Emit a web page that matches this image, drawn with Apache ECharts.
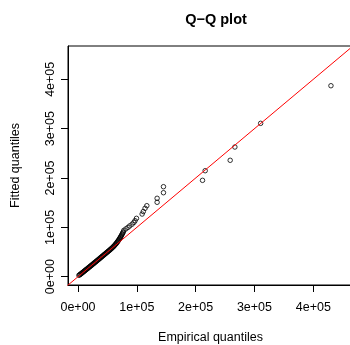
<!DOCTYPE html>
<html>
<head>
<meta charset="utf-8">
<script src="https://cdn.jsdelivr.net/npm/echarts@6/dist/echarts.min.js"></script>
<style>
  html, body { margin: 0; padding: 0; background: #fff; }
  #chart { width: 350px; height: 345px; }
</style>
</head>
<body>
<div id="chart"></div>
<script>
// empirical vs fitted quantiles, in thousands
const empirical = [
  1.5, 2.8, 3.9, 5.1, 6.0, 7.2, 8.1, 9.3, 10.4, 11.2, 12.5, 13.6, 14.4, 15.7, 16.8, 17.6,
  18.9, 20.1, 21.0, 22.3, 23.4, 24.2, 25.6, 26.7, 27.5, 28.8, 29.9, 31.0, 32.2, 33.1, 34.5,
  35.6, 36.4, 37.8, 38.9, 40.1, 41.0, 42.4, 43.5, 44.6, 45.5, 46.9, 48.0, 49.2, 50.3, 51.4,
  52.6, 53.7, 54.8, 55.9, 57.1, 58.2, 59.4, 60.5, 61.6, 62.5, 63.6, 64.6, 65.5, 66.4, 67.3,
  68.2, 69.1, 70.0, 70.9, 71.8, 72.6, 73.5, 74.4, 75.3, 76.2, 77.0, 78.0, 81.5, 85.0, 88.0,
  92.0, 95.0, 97.0, 99.4, 109.0, 111.0, 114.0, 117.0, 134.5, 134.5, 145.3, 145.3, 211.7,
  216.2, 258.7, 266.7, 310.5, 430.0
];
const fitted = [
  2.8, 3.9, 4.8, 5.9, 6.9, 7.9, 8.8, 10.0, 11.0, 11.9, 13.1, 14.1, 14.9, 16.2, 17.2, 18.0,
  19.3, 20.4, 21.3, 22.6, 23.6, 24.4, 25.8, 26.9, 27.7, 29.0, 30.0, 31.1, 32.3, 33.2, 34.6,
  35.7, 36.5, 37.9, 39.0, 40.2, 41.1, 42.5, 43.6, 44.7, 45.6, 47.0, 48.1, 49.3, 50.4, 51.5,
  52.7, 53.8, 55.0, 56.1, 57.4, 58.6, 60.0, 61.3, 62.7, 63.9, 65.4, 66.8, 68.2, 69.6, 71.1,
  72.6, 74.1, 75.8, 77.5, 79.3, 81.0, 82.8, 84.8, 86.8, 88.9, 90.8, 94.0, 97.0, 100.0, 103.0,
  106.5, 110.0, 113.5, 118.3, 127.0, 132.0, 138.6, 143.9, 150.8, 158.9, 170.2, 182.4, 195.3,
  214.8, 235.9, 262.8, 310.8, 387.0
];
const tickValues = [0, 100000, 200000, 300000, 400000];
const tickLabels = ['0e+00', '1e+05', '2e+05', '3e+05', '4e+05'];
const refLine = [-50000, 600000];

const points = empirical.map((e, i) => [e * 1000, fitted[i] * 1000]);
const font = "'Liberation Sans', Arial, sans-serif";

function fmt(v) {
  const i = tickValues.indexOf(v);
  return i >= 0 ? tickLabels[i] : '';
}

const chart = echarts.init(document.getElementById('chart'), null, { renderer: 'canvas' });

chart.setOption({
  animation: false,
  backgroundColor: '#fff',
  title: {
    text: 'Q\u2212Q plot',
    left: 211,
    top: 7,
    textAlign: 'center',
    textStyle: { fontFamily: font, fontSize: 14.5, fontWeight: 'bold', color: '#000' }
  },
  grid: {
    left: 68, top: 46, right: -3, bottom: 60,
    containLabel: false,
    outerBoundsMode: 'none',
    show: true,
    borderColor: '#000',
    borderWidth: 1
  },
  xAxis: {
    type: 'value',
    min: -17000,
    max: 467500,
    name: 'Empirical quantiles',
    nameLocation: 'middle',
    nameGap: 46,
    nameTextStyle: { fontFamily: font, fontSize: 12.5, color: '#000' },
    splitLine: { show: false },
    axisLine: { show: true, onZero: false, lineStyle: { color: '#000', width: 1 } },
    axisTick: { show: true, length: 7, customValues: tickValues, lineStyle: { color: '#000' } },
    axisLabel: {
      customValues: tickValues, formatter: fmt, margin: 16,
      fontFamily: font, fontSize: 12.5, color: '#000'
    }
  },
  yAxis: {
    type: 'value',
    min: -16800,
    max: 467500,
    name: 'Fitted quantiles',
    nameLocation: 'middle',
    nameGap: 46,
    nameTextStyle: { fontFamily: font, fontSize: 12.5, color: '#000' },
    splitLine: { show: false },
    axisLine: { show: true, onZero: false, lineStyle: { color: '#000', width: 1 } },
    axisTick: { show: true, length: 7, customValues: tickValues, lineStyle: { color: '#000' } },
    axisLabel: {
      customValues: tickValues, formatter: fmt, margin: 11, rotate: 90,
      fontFamily: font, fontSize: 12.5, color: '#000'
    }
  },
  series: [
    {
      type: 'scatter',
      data: points,
      symbol: 'circle',
      symbolSize: 4.5,
      itemStyle: { color: 'rgba(0,0,0,0)', borderColor: '#000', borderWidth: 1 },
      z: 2
    },
    {
      type: 'line',
      data: [[refLine[0], refLine[0]], [refLine[1], refLine[1]]],
      showSymbol: false,
      clip: true,
      lineStyle: { color: '#ff0000', width: 1 },
      z: 3
    }
  ]
});
</script>
</body>
</html>
